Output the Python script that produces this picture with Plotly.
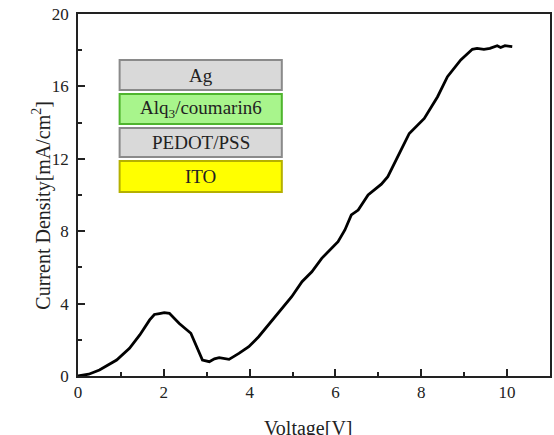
import plotly.graph_objects as go

voltage = [0, 0.1, 0.25, 0.5, 0.9, 1.2, 1.44, 1.67, 1.78, 1.9, 2.01, 2.13, 2.36, 2.63, 2.79, 2.9,
           3.06, 3.18, 3.29, 3.4, 3.52, 3.75, 3.98, 4.21, 4.6, 4.98, 5.22, 5.45, 5.68, 6.06, 6.22,
           6.37, 6.53, 6.76, 7.07, 7.22, 7.53, 7.72, 8.07, 8.38, 8.61, 8.92, 9.19, 9.3, 9.46, 9.6,
           9.77, 9.85, 9.95, 10.05, 10.12]
current = [0, 0.03, 0.1, 0.33, 0.88, 1.53, 2.27, 3.1, 3.4, 3.45, 3.5, 3.46, 2.9, 2.36, 1.44, 0.88,
           0.79, 0.95, 1.01, 0.95, 0.92, 1.25, 1.62, 2.17, 3.28, 4.38, 5.21, 5.76, 6.5, 7.42, 8.07,
           8.9, 9.17, 10.0, 10.6, 11.01, 12.49, 13.4, 14.23, 15.43, 16.54, 17.46, 18.05, 18.1, 18.05,
           18.1, 18.25, 18.15, 18.25, 18.2, 18.2]

layer_names = ["Ag", "Alq<sub>3</sub>/coumarin6", "PEDOT/PSS", "ITO"]
layer_fill = ["#d9d9d9", "#a8f58c", "#d9d9d9", "#ffff00"]
layer_edge = ["#8a8a8a", "#4fb52e", "#8a8a8a", "#b5b000"]
layer_top = [17.46, 15.58, 13.7, 11.88]
layer_bot = [15.8, 13.92, 12.1, 10.17]
layer_x0, layer_x1 = 0.97, 4.75

FONT = "Liberation Serif"

fig = go.Figure()
fig.add_trace(go.Scatter(x=voltage, y=current, mode="lines",
                         line=dict(color="black", width=2.8), showlegend=False))

for name, fc, ec, top, bot in zip(layer_names, layer_fill, layer_edge, layer_top, layer_bot):
    fig.add_shape(type="rect", x0=layer_x0, x1=layer_x1, y0=bot, y1=top,
                  fillcolor=fc, line=dict(color=ec, width=2), layer="above")
    fig.add_annotation(x=(layer_x0 + layer_x1) / 2, y=(top + bot) / 2, text=name,
                       showarrow=False, font=dict(family=FONT, size=19, color="#222"))

axis_common = dict(showline=True, linecolor="#222", linewidth=1.5, mirror=True,
                   ticks="inside", ticklen=7, tickwidth=1.5, tickcolor="#222",
                   showgrid=False, zeroline=False,
                   tickfont=dict(family=FONT, size=17, color="#222"))

fig.update_xaxes(range=[0, 11], tick0=0, dtick=2,
                 minor=dict(ticks="inside", ticklen=4, tickwidth=1.5, tickcolor="#222", dtick=1),
                 **axis_common)
fig.update_yaxes(range=[0, 20], tick0=0, dtick=4,
                 minor=dict(ticks="inside", ticklen=4, tickwidth=1.5, tickcolor="#222", dtick=2),
                 ticklabelstandoff=4, **axis_common)

fig.add_annotation(xref="paper", yref="paper", x=-0.108, y=0.472, text="Current Density[mA/cm<sup>2</sup>]",
                   textangle=-90, showarrow=False, font=dict(family=FONT, size=20, color="#222"))
fig.add_annotation(xref="paper", yref="paper", x=0.489, y=-0.108, yanchor="top", text="Voltage[V]",
                   showarrow=False, font=dict(family=FONT, size=20, color="#222"))

fig.update_layout(width=554, height=435, margin=dict(l=78, r=2, t=14, b=59),
                  plot_bgcolor="white", paper_bgcolor="white")

fig.write_html("out.html", config={"displayModeBar": False},
               post_script="document.body.style.margin='0';document.body.style.overflow='hidden';")
